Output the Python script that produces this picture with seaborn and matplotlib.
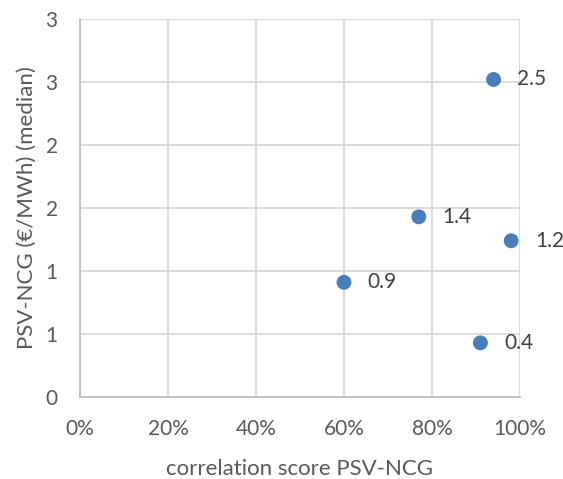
import matplotlib
matplotlib.use("Agg")
import matplotlib.pyplot as plt
import seaborn as sns
import pandas as pd
from matplotlib.ticker import FixedLocator, FixedFormatter

correlation = [0.94, 0.77, 0.98, 0.60, 0.91]
spread = [2.52, 1.43, 1.24, 0.91, 0.43]
point_labels = ["2.5", "1.4", "1.2", "0.9", "0.4"]
x_ticks = [0, 0.2, 0.4, 0.6, 0.8, 1.0]
x_tick_labels = ["0%", "20%", "40%", "60%", "80%", "100%"]
y_ticks = [0, 0.5, 1.0, 1.5, 2.0, 2.5, 3.0]
y_tick_labels = ["0", "1", "1", "2", "2", "3", "3"]

sns.set_style("white")
plt.rcParams['font.family'] = ['Lato', 'DejaVu Sans']
text_color = "#595959"

df = pd.DataFrame({"corr": correlation, "spread": spread})
fig = plt.figure(figsize=(5.63, 4.79), dpi=100)
ax = fig.add_axes([80/563, 1-397/479, 440/563, 378/479])
sns.scatterplot(data=df, x="corr", y="spread", ax=ax, color="#4A7EBB",
                s=115, edgecolor="none", zorder=3, clip_on=False)

for xv, yv, lab in zip(correlation, spread, point_labels):
    ax.annotate(lab, (xv, yv), xytext=(17, 0), textcoords="offset points",
                va="center", ha="left", fontsize=15, color="#404040")

ax.set_xlim(0, 1)
ax.set_ylim(0, 3)
ax.xaxis.set_major_locator(FixedLocator(x_ticks))
ax.xaxis.set_major_formatter(FixedFormatter(x_tick_labels))
ax.yaxis.set_major_locator(FixedLocator(y_ticks))
ax.yaxis.set_major_formatter(FixedFormatter(y_tick_labels))
ax.grid(True, color="#d9d9d9", linewidth=1.3)
ax.set_axisbelow(True)
for s in ["top", "right"]:
    ax.spines[s].set_visible(False)
for s in ["left", "bottom"]:
    ax.spines[s].set_color("#bfbfbf")
    ax.spines[s].set_linewidth(1.3)
ax.tick_params(axis="x", length=0, labelsize=15, labelcolor=text_color, pad=16)
ax.tick_params(axis="y", length=0, labelsize=15, labelcolor=text_color, pad=16)
ax.set_xlabel("correlation score PSV-NCG", fontsize=16, color=text_color, labelpad=14)
ax.set_ylabel("PSV-NCG (€/MWh) (median)", fontsize=16, color=text_color, labelpad=6)

fig.savefig("out.png", dpi=100)
